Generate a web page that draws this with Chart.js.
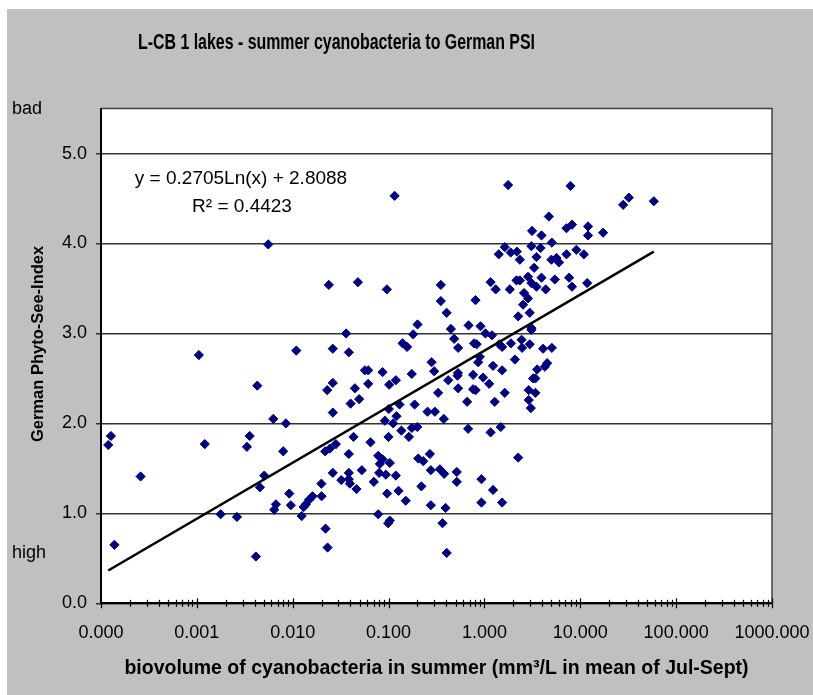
<!DOCTYPE html>
<html>
<head>
<meta charset="utf-8">
<script src="https://cdn.jsdelivr.net/npm/chart.js@4.4.1/dist/chart.umd.min.js"></script>
<style>
  html, body { margin: 0; padding: 0; background: #ffffff; }
  #wrap { width: 813px; height: 695px; }
</style>
</head>
<body>
<div id="wrap"><canvas id="chart" width="813" height="695"></canvas></div>
<script>
// Summer cyanobacteria biovolume (mm3/L, mean Jul-Sept) per lake
const biovolume = [
  0.00556, 0.00105, 0.0109, 0.00427, 0.00627, 0.00849, 0.000127, 0.000119, 0.00121, 0.00356,
  0.00333, 0.00796, 0.000259, 0.00505, 0.00455, 0.0092, 0.00668, 0.00955, 0.00641, 0.0130,
  0.0124, 0.00177, 0.00262, 0.000138, 0.00413,
  0.1156, 0.0238, 0.0479, 0.096, 0.0361, 0.2005, 0.1806, 0.14, 0.156, 0.0262,
  0.0385, 0.0566, 0.0613, 0.0613, 0.0865, 0.0229, 0.0262, 0.0445, 0.0402, 0.0493,
  0.0262, 0.1015, 0.119, 0.1746, 0.130, 0.187, 0.1007, 0.0914, 0.1117, 0.121,
  0.136, 0.163, 0.175, 0.199, 0.0999, 0.0431, 0.0648, 0.0218, 0.0244, 0.0282,
  0.0385, 0.078, 0.0866, 0.0811, 0.103, 0.204, 0.23, 0.0262, 0.0385, 0.0526,
  0.0321, 0.0395, 0.0385, 0.0463, 0.0702, 0.0798, 0.0937, 0.119, 0.0966, 0.127,
  0.151, 0.220, 0.0199, 0.020, 0.0161, 0.0148, 0.0137, 0.078, 0.099, 0.103,
  0.022, 0.0231,
  1.766, 3.14, 1.63, 1.41, 1.88, 2.18, 2.34, 3.09, 1.16, 1.31,
  1.84, 2.16, 2.34, 2.85, 2.59, 2.53, 2.85, 2.25, 2.97, 3.09,
  0.351, 0.351, 0.403, 0.807, 0.447, 0.483, 0.532, 0.683, 0.910, 1.026,
  1.20, 0.78, 0.83, 1.43, 1.53, 1.89, 2.44, 2.47, 2.97, 2.08,
  0.895, 0.86, 1.23, 1.53, 0.281, 0.299, 0.419, 0.524, 0.53, 0.532,
  0.762, 0.968, 1.12, 0.762, 0.81, 0.66, 1.28, 1.63, 0.329, 0.255,
  0.304, 0.377, 0.676, 1.16, 1.48, 2.25, 2.90, 2.90, 3.22, 0.27,
  0.276, 0.343, 0.38, 0.515, 0.515, 0.931, 1.23, 1.53, 0.931, 0.276,
  0.393, 0.365, 0.404,
  7.9, 28, 32.1, 58.5, 4.7, 3.94, 7.18, 8.21, 12.05, 12.05,
  17.3, 3.85, 5.05, 3.49, 9.1, 10.9, 7.18, 5.0, 5.65, 6.0,
  3.30, 3.94, 5.42, 7.64, 8.2, 11.8, 4.36, 3.49, 3.09, 3.09,
  4.09, 5.05, 3.55, 4.27, 4.51, 3.40, 3.40, 3.05
];

// German Phyto-See-Index of the same lakes
const psi = [
  3.99, 2.76, 2.81, 2.42, 2.05, 2.00, 1.86, 1.76, 1.77, 1.86,
  1.74, 1.69, 1.41, 1.42, 1.29, 1.22, 1.10, 1.09, 1.04, 1.07,
  0.97, 0.99, 0.96, 0.65, 0.52,
  4.53, 3.54, 3.57, 3.49, 3.00, 3.10, 2.99, 2.89, 2.85, 2.83,
  2.79, 2.59, 2.59, 2.44, 2.57, 2.37, 2.45, 2.39, 2.22, 2.27,
  2.12, 2.43, 2.48, 2.55, 2.21, 2.21, 2.16, 2.03, 2.00, 2.08,
  1.92, 1.85, 1.95, 1.96, 1.85, 1.85, 1.79, 1.69, 1.72, 1.77,
  1.66, 1.64, 1.60, 1.55, 1.56, 1.61, 1.58, 1.45, 1.45, 1.48,
  1.37, 1.33, 1.38, 1.27, 1.35, 1.45, 1.43, 1.42, 1.22, 1.25,
  1.14, 1.30, 1.33, 1.19, 1.19, 1.15, 1.10, 0.99, 0.89, 0.92,
  0.83, 0.62,
  4.65, 4.14, 3.96, 3.88, 3.90, 3.91, 3.82, 3.97, 3.57, 3.49,
  3.49, 3.59, 3.59, 3.63, 3.45, 3.32, 3.39, 3.19, 3.23, 3.04,
  3.54, 3.36, 3.23, 3.37, 3.05, 2.94, 2.84, 3.09, 3.08, 3.00,
  2.98, 2.89, 2.88, 2.88, 2.85, 2.89, 2.93, 2.84, 2.88, 2.71,
  2.74, 2.68, 2.64, 2.59, 2.68, 2.58, 2.48, 2.53, 2.56, 2.39,
  2.54, 2.51, 2.44, 2.38, 2.37, 2.24, 2.24, 2.34, 2.34, 2.13,
  2.13, 2.05, 1.94, 1.90, 1.96, 1.62, 2.37, 2.26, 2.50, 1.66,
  1.48, 1.49, 1.44, 1.46, 1.35, 1.38, 1.26, 1.12, 1.12, 1.09,
  1.06, 0.89, 0.56,
  4.64, 4.43, 4.51, 4.47, 4.30, 4.09, 4.17, 4.21, 4.19, 4.09,
  4.12, 3.95, 4.01, 3.85, 3.93, 3.88, 3.88, 3.82, 3.84, 3.79,
  3.73, 3.62, 3.60, 3.62, 3.52, 3.56, 3.49, 3.52, 3.56, 3.06,
  2.83, 2.84, 2.60, 2.63, 2.67, 2.50, 2.34, 2.17
];

// Axis ticks
const xDecades = [0.0001, 0.001, 0.01, 0.1, 1, 10, 100, 1000];
const yTicks = [0, 1, 2, 3, 4, 5];
// Quality class words on the index axis
const yClassWords = ['high', 'bad'];
const yClassValues = [0.56, 5.5];

// Logarithmic trend line fitted to the lakes
const trendSlope = 0.2705;
const trendIntercept = 2.8088;
const trendR2 = 0.4423;

const chartTitle = 'L-CB 1 lakes - summer cyanobacteria to German PSI';
const xTitle = 'biovolume of cyanobacteria in summer (mm\u00B3/L in mean of Jul-Sept)';
const yTitle = 'German Phyto-See-Index';

const FONT = "'Liberation Sans', Arial, sans-serif";

const points = biovolume.map((v, i) => ({ x: v, y: psi[i] }));
const xMin = Math.min(...biovolume);
const xMax = Math.max(...biovolume);
const trendAt = v => trendSlope * Math.log(v) + trendIntercept;
const trendPoints = [{ x: xMin, y: trendAt(xMin) }, { x: xMax, y: trendAt(xMax) }];

const decor = {
  id: 'decor',
  beforeDraw(chart) {
    const { ctx, chartArea: a, width, height } = chart;
    ctx.save();
    ctx.fillStyle = '#ffffff';
    ctx.fillRect(0, 0, width, height);
    ctx.fillStyle = '#c0c0c0';
    ctx.fillRect(7, 9, width - 7, height - 9);
    ctx.fillStyle = '#ffffff';
    ctx.fillRect(a.left, a.top, a.right - a.left, a.bottom - a.top);
    ctx.restore();
  },
  afterDraw(chart) {
    const { ctx, chartArea: a } = chart;
    const xs = chart.scales.x, ys = chart.scales.y;
    ctx.save();

    // top and right frame of the plot area
    ctx.strokeStyle = '#404040';
    ctx.lineWidth = 1.5;
    ctx.beginPath();
    ctx.moveTo(a.left, a.top);
    ctx.lineTo(a.right, a.top);
    ctx.lineTo(a.right, a.bottom);
    ctx.stroke();

    // crossing tick marks on the logarithmic axis
    ctx.strokeStyle = '#000000';
    ctx.lineWidth = 1.2;
    xs.ticks.forEach(t => {
      const px = Math.round(xs.getPixelForValue(t.value)) + 0.5;
      const len = t.major ? 5 : 3.5;
      ctx.beginPath();
      ctx.moveTo(px, a.bottom - len);
      ctx.lineTo(px, a.bottom + len);
      ctx.stroke();
    });

    // chart title (narrow bold face)
    ctx.fillStyle = '#000000';
    ctx.font = 'bold 22px ' + FONT;
    ctx.textBaseline = 'middle';
    ctx.textAlign = 'left';
    const tw = ctx.measureText(chartTitle).width;
    ctx.save();
    ctx.translate(138, 43);
    ctx.scale(397 / tw, 1);
    ctx.fillText(chartTitle, 0, 0);
    ctx.restore();

    // vertical axis title
    ctx.save();
    ctx.font = 'bold 16.5px ' + FONT;
    ctx.textAlign = 'center';
    ctx.translate(38, (a.top + a.bottom) / 2 - 12);
    ctx.rotate(-Math.PI / 2);
    ctx.fillText(yTitle, 0, 0);
    ctx.restore();

    // class words next to the index axis
    ctx.font = '18px ' + FONT;
    ctx.textAlign = 'left';
    yClassWords.forEach((w, i) => {
      ctx.fillText(w, 12, ys.getPixelForValue(yClassValues[i]));
    });

    // trend line equation
    ctx.font = '19px ' + FONT;
    ctx.textAlign = 'center';
    const cx = a.left + 140;
    ctx.fillText('y = ' + trendSlope.toFixed(4) + 'Ln(x) + ' + trendIntercept.toFixed(4), cx, a.top + 70);
    ctx.fillText('R\u00B2 = ' + trendR2.toFixed(4), cx + 1, a.top + 98);

    ctx.restore();
  }
};

new Chart(document.getElementById('chart'), {
  type: 'scatter',
  data: {
    datasets: [
      {
        label: 'lakes',
        data: points,
        pointStyle: 'rectRot',
        pointRadius: 4.6,
        pointBackgroundColor: '#000080',
        pointBorderColor: '#000080',
        pointBorderWidth: 1,
        order: 2
      },
      {
        label: 'trend',
        data: trendPoints,
        showLine: true,
        borderColor: '#000000',
        borderWidth: 2.5,
        pointRadius: 0,
        order: 1
      }
    ]
  },
  options: {
    responsive: false,
    animation: false,
    events: [],
    layout: { padding: { left: 0, right: 41, top: 108.6, bottom: 0 } },
    plugins: { legend: { display: false }, tooltip: { enabled: false }, title: { display: false } },
    scales: {
      x: {
        type: 'logarithmic',
        min: xDecades[0],
        max: xDecades[xDecades.length - 1],
        afterBuildTicks(scale) {
          const ticks = [];
          xDecades.forEach((d, i) => {
            if (i === xDecades.length - 1) { ticks.push({ value: d, major: true }); return; }
            for (let k = 1; k <= 9; k++) ticks.push({ value: d * k, major: k === 1 });
          });
          scale.ticks = ticks;
        },
        afterFit(scale) {
          scale.height = 91.7;
          scale.paddingLeft = 0;
          scale.paddingRight = 0;
        },
        grid: { display: false, drawTicks: false, tickLength: 0 },
        border: { display: true, color: '#000000', width: 2 },
        ticks: {
          autoSkip: false,
          maxRotation: 0,
          padding: 19,
          color: '#000000',
          font: { family: FONT, size: 18 },
          callback(value, index, ticks) {
            return ticks[index].major ? Number(value).toFixed(3) : '';
          }
        },
        title: {
          display: true,
          text: xTitle,
          color: '#000000',
          font: { family: FONT, size: 19.5, weight: 'bold' },
          padding: { top: 0, bottom: 15 }
        }
      },
      y: {
        type: 'linear',
        min: 0,
        max: 5.5,
        afterBuildTicks(scale) { scale.ticks = yTicks.map(v => ({ value: v })); },
        afterFit(scale) { scale.width = 101; },
        grid: {
          color: '#333333',
          lineWidth: 1.5,
          tickLength: 5,
          drawTicks: true
        },
        border: { display: true, color: '#000000', width: 2 },
        ticks: {
          padding: 9,
          color: '#000000',
          font: { family: FONT, size: 18 },
          callback(value) { return Number(value).toFixed(1); }
        }
      }
    }
  },
  plugins: [decor]
});
</script>
</body>
</html>
